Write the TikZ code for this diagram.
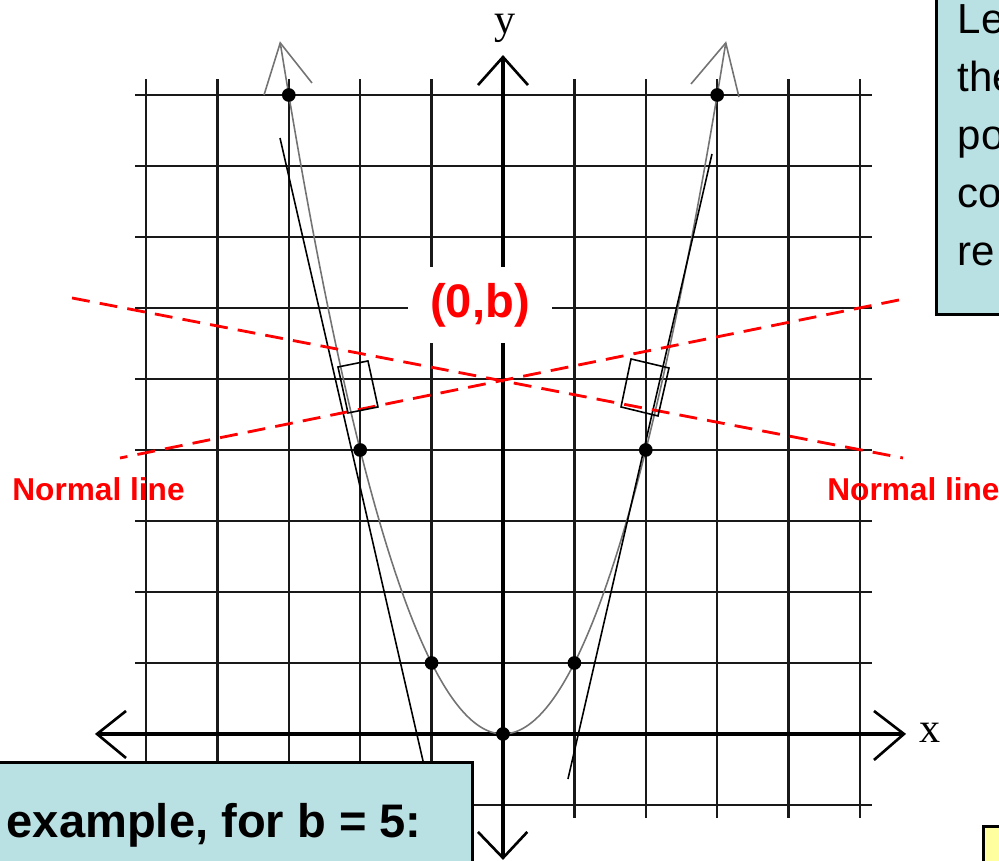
\documentclass[tikz,border=0pt]{standalone}
\usepackage{fontspec}
\setmainfont{Liberation Serif}
\newfontfamily\arialfont{Liberation Sans}
\usetikzlibrary{positioning}
\definecolor{boxblue}{RGB}{185,224,227}
\definecolor{noteyellow}{RGB}{255,255,160}
\definecolor{normalred}{RGB}{255,0,0}

\begin{document}
\begin{tikzpicture}[x=0.714cm, y=0.71cm]
    \tikzset{
        gridstyle/.style={black!90, line width=0.72pt},
        axisstyle/.style={black, line width=1.05pt},
        headstyle/.style={black, line width=0.75pt},
        curvestyle/.style={black!55, line width=0.45pt},
        tangentstyle/.style={black, line width=0.45pt},
        normalstyle/.style={normalred, line width=0.8pt, dash pattern=on 5.1pt off 2.9pt},
        dotstyle/.style={circle, fill=black, inner sep=0pt, minimum size=3.9pt},
        redlabel/.style={text=normalred, font=\arialfont\bfseries\fontsize{9}{11}\selectfont},
        notebox/.style={fill=boxblue, draw=black, line width=0.85pt}
    }
    \useasboundingbox (-7.045,-1.789) rectangle (6.947,10.338);

    % grid
    \foreach \x in {-5,-4,-3,-2,-1,1,2,3,4,5}
        \draw[gridstyle] (\x,-1.18) -- (\x,9.225);
    \foreach \y in {-1,1,2,3,4,5,6,7,8,9}
        \draw[gridstyle] (-5.154,\y) -- (5.168,\y);

    % axes
    \coordinate (xl) at (-5.686,0);
    \coordinate (xr) at (5.616,0);
    \coordinate (yt) at (0,9.535);
    \coordinate (yb) at (0,-1.746);
    \draw[axisstyle] (xl) -- (xr);
    \draw[axisstyle] (yb) -- (yt);
    \draw[headstyle] (-5.28,0.324) -- (xl) -- (-5.28,-0.338);
    \draw[headstyle] (5.196,0.324) -- (xr) -- (5.196,-0.366);
    \draw[headstyle] (-0.35,9.14) -- (yt) -- (0.35,9.14);
    \draw[headstyle] (-0.35,-1.38) -- (yb) -- (0.34,-1.38);
    \node (ylab) at (0.03,9.94) {\fontsize{12}{14}\selectfont y};
    \node (xlab) at (5.98,0.01) {\fontsize{12}{14}\selectfont x};

    \node[fill=white, inner sep=0pt, minimum width=1.44cm, minimum height=0.76cm,
        text=normalred, font=\arialfont\bfseries\fontsize{13.4}{15}\selectfont]
        (bpt) at (-0.322,6.042) {(0,b)};

    % parabola
    \draw[curvestyle, domain=-3.12:3.12, samples=80, smooth] plot (\x,{\x*\x});
    \coordinate (ltip) at (-3.12,9.734);
    \coordinate (rtip) at (3.12,9.734);
    \draw[curvestyle] (-3.347,9.0) -- (ltip) -- (-2.675,9.169);
    \draw[curvestyle] (2.633,9.155) -- (rtip) -- (3.305,8.972);

    % tangent lines
    \draw[tangentstyle] (-3.123,8.394) -- (-1.07,-0.6);
    \draw[tangentstyle] (2.927,8.169) -- (0.91,-0.634);

    % normal lines
    \draw[normalstyle] (-6.036,6.141) -- (5.602,3.887);
    \draw[normalstyle] (5.546,6.113) -- (-5.364,3.887);

    % right angles
    \draw[tangentstyle] (-2.311,5.169) -- (-1.891,5.254) -- (-1.751,4.606) -- (-2.171,4.521) -- cycle;
    \draw[tangentstyle] (1.793,5.282) -- (2.325,5.155) -- (2.171,4.479) -- (1.653,4.606) -- cycle;

    \foreach \x [count=\i] in {-3,...,3}
        \node[dotstyle] (pt\i) at (\x,{\x*\x}) {};

    \node[redlabel] (nleft) at (-5.665,3.451) {Normal line};
    \node[redlabel] (nright) at (5.749,3.451) {Normal line};

    % text boxes
    \draw[notebox] (6.078,5.915) rectangle (7.4,10.6);
    \foreach \txt [count=\i] in {Le,the,po,co,re}
        \node[anchor=base west, inner sep=0pt, font=\arialfont\fontsize{11.95}{14}\selectfont]
            (info\i) at (6.359,{9.873-0.817*(\i-1)}) {\txt};

    \draw[notebox] (-7.4,-2.0) rectangle (-0.434,-0.408);
    \node[anchor=base west, inner sep=0pt, font=\arialfont\bfseries\fontsize{13.4}{16}\selectfont]
        (example) at (-6.96,-1.465) {example, for b = 5:};

    \draw[fill=noteyellow, draw=black, line width=0.85pt] (6.723,-1.31) rectangle (7.4,-2.0);
\end{tikzpicture}
\end{document}
